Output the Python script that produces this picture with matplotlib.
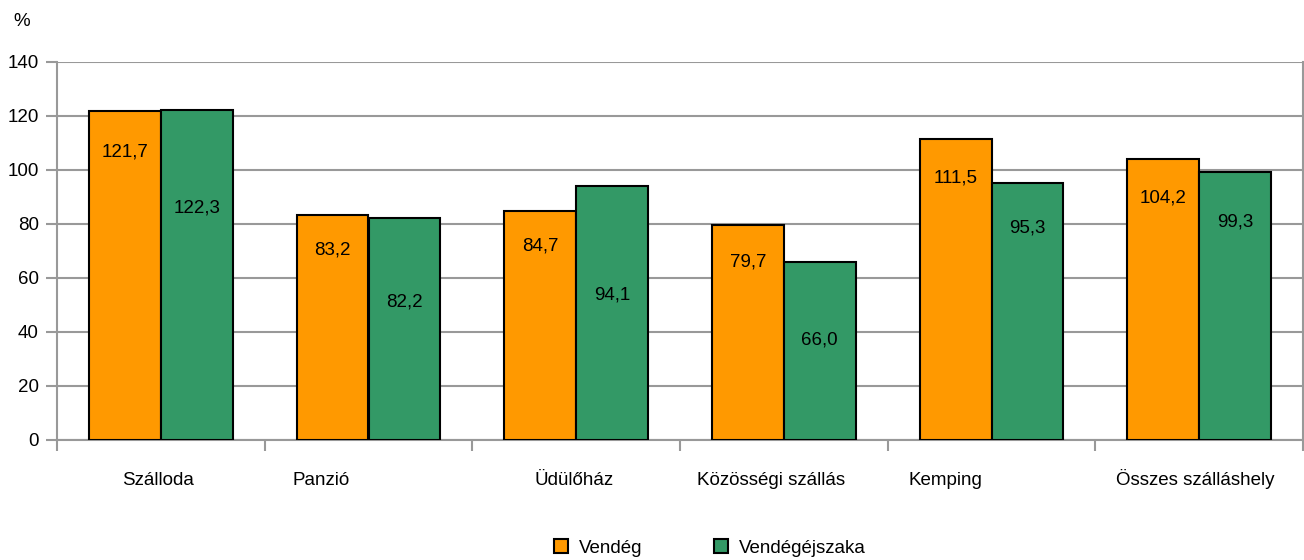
import matplotlib
matplotlib.use("Agg")
import matplotlib.pyplot as plt
import matplotlib.transforms as mtransforms
from matplotlib.patches import Patch
import numpy as np

plt.rcParams['font.family'] = ['Liberation Sans', 'DejaVu Sans']

categories = ["Szálloda", "Panzió", "Üdülőház", "Közösségi szállás", "Kemping", "Összes szálláshely"]
vendeg = [121.7, 83.2, 84.7, 79.7, 111.5, 104.2]
vendegejszaka = [122.3, 82.2, 94.1, 66.0, 95.3, 99.3]
series_names = ["Vendég", "Vendégéjszaka"]
value_labels_v = ["121,7", "83,2", "84,7", "79,7", "111,5", "104,2"]
value_labels_e = ["122,3", "82,2", "94,1", "66,0", "95,3", "99,3"]

# layout: label vertical positions (data units) and category label offsets
label_y_v = [106.7, 70.4, 71.9, 65.9, 97.0, 89.6]
label_y_e = [85.9, 51.1, 53.7, 37.0, 78.5, 80.7]
cat_offsets = [-0.015, -0.23, -0.01, -0.06, -0.22, -0.02]

ORANGE = "#FF9900"
GREEN = "#339966"
GRID = "#999999"
FS = 13.5

fig = plt.figure(figsize=(13.04, 5.6), dpi=100)
ax = fig.add_axes([57/1304, 1-440/560, 1246/1304, 378/560])

x = np.arange(len(categories))
w = 0.346
ax.bar(x - w/2, vendeg, width=w, color=ORANGE, edgecolor="black", linewidth=1.5, zorder=3)
ax.bar(x + w/2, vendegejszaka, width=w, color=GREEN, edgecolor="black", linewidth=1.5, zorder=3)

for i in range(len(categories)):
    ax.text(x[i] - w/2, label_y_v[i], value_labels_v[i], ha="center", va="center", fontsize=FS, zorder=4)
    ax.text(x[i] + w/2, label_y_e[i], value_labels_e[i], ha="center", va="center", fontsize=FS, zorder=4)

ax.set_xlim(-0.5, len(categories) - 0.5)
ax.set_ylim(0, 140)
ax.set_yticks(np.arange(0, 141, 20))
ax.set_yticklabels([str(v) for v in range(0, 141, 20)], fontsize=FS)
ax.yaxis.grid(True, color=GRID, linewidth=1.5, zorder=0)
ax.set_axisbelow(True)

ax.set_xticks(np.arange(-0.5, len(categories), 1.0))
ax.set_xticklabels([])
ax.tick_params(axis="x", direction="out", length=8, width=1.5, color=GRID)
ax.tick_params(axis="y", direction="out", length=8, width=1.5, color=GRID, pad=5)

for s in ["left", "bottom", "right"]:
    ax.spines[s].set_color(GRID)
    ax.spines[s].set_linewidth(1.5)
ax.spines["top"].set_visible(False)

trans = mtransforms.blended_transform_factory(ax.transData, ax.transAxes)
for i, c in enumerate(categories):
    ax.text(x[i] + cat_offsets[i], -45/378, c, transform=trans, ha="center", va="baseline", fontsize=FS)

fig.text(22/1304, 1-22/560, "%", ha="center", va="center", fontsize=FS)

handles = [Patch(facecolor=ORANGE, edgecolor="black", linewidth=1.5),
           Patch(facecolor=GREEN, edgecolor="black", linewidth=1.5)]
fig.legend(handles, series_names, loc="center", bbox_to_anchor=(710/1304, 1-548/560), ncol=2,
           frameon=False, fontsize=FS, handlelength=0.75, handleheight=0.75,
           handletextpad=0.55, columnspacing=3.85, borderpad=0, borderaxespad=0)

fig.savefig("out.png", dpi=100)
